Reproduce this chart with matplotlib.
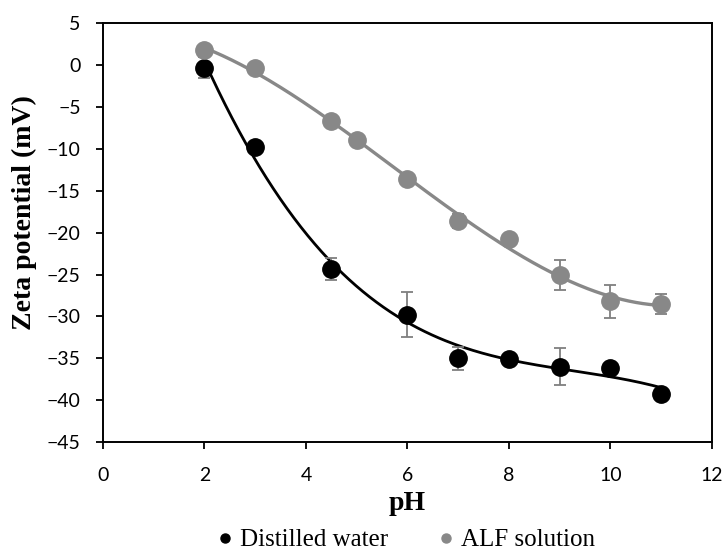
import numpy as np
import matplotlib
matplotlib.use('Agg')
import matplotlib.pyplot as plt
from matplotlib.lines import Line2D

# distilled water
ph_water = [2, 3, 4.5, 6, 7, 8, 9, 10, 11]
zeta_water = [-0.3, -9.8, -24.3, -29.8, -35.0, -35.1, -36.0, -36.1, -39.2]
err_water = [1.3, 0.5, 1.3, 2.7, 1.4, 0.5, 2.2, 0.6, 0.5]

# ALF solution
ph_alf = [2, 3, 4.5, 5, 6, 7, 8, 9, 10, 11]
zeta_alf = [1.8, -0.4, -6.7, -9.0, -13.6, -18.6, -20.8, -25.1, -28.2, -28.5]
err_alf = [0.3, 0.3, 0.5, 0.4, 0.4, 0.8, 0.4, 1.8, 2.0, 1.2]

x_ticks = [0, 2, 4, 6, 8, 10, 12]
y_ticks = [5, 0, -5, -10, -15, -20, -25, -30, -35, -40, -45]

black = '#000000'
grey = '#888888'
err_col = '#7f7f7f'

fig = plt.figure(figsize=(7.25, 5.52), dpi=100)
ax = fig.add_axes([0.142, 0.199, 0.840, 0.759])

def trend(x, y, deg=3):
    c = np.polyfit(x, y, deg)
    xs = np.linspace(min(x), max(x), 200)
    return xs, np.polyval(c, xs)

for x, y, e, col, lw in [(ph_water, zeta_water, err_water, black, 2.0),
                         (ph_alf, zeta_alf, err_alf, grey, 2.4)]:
    xs, ys = trend(x, y)
    ax.plot(xs, ys, color=col, lw=lw, zorder=2)
    ax.errorbar(x, y, yerr=e, fmt='none', ecolor=err_col, elinewidth=1.3,
                capsize=4, capthick=1.3, zorder=3)
    ax.plot(x, y, 'o', color=col, markersize=12.5, zorder=4, linestyle='none')

ax.set_xlim(0, 12)
ax.set_ylim(-45, 5)
ax.set_xticks(x_ticks)
ax.set_yticks(y_ticks)
for s in ax.spines.values():
    s.set_linewidth(1.4)
    s.set_color('black')
ax.tick_params(direction='out', length=5, width=1.3, labelsize=14, pad=11)
ax.tick_params(axis='x', pad=13)
for lab in ax.get_xticklabels() + ax.get_yticklabels():
    lab.set_fontfamily('Lato')

fig.text(24 / 725, 1 - 213 / 552, 'Zeta potential (mV)', rotation=90,
         ha='center', va='center', family='Liberation Serif',
         fontweight='bold', fontsize=20)
fig.text(407 / 725, 1 - 503 / 552, 'pH', ha='center', va='center',
         family='Liberation Serif', fontweight='bold', fontsize=20)

handles = [Line2D([], [], marker='o', color=black, linestyle='none', markersize=6.5),
           Line2D([], [], marker='o', color=grey, linestyle='none', markersize=6.5)]
fig.legend(handles, ['Distilled water', 'ALF solution'], loc='center',
           bbox_to_anchor=(404 / 725, 1 - 540 / 552), ncol=2, frameon=False,
           prop={'family': 'Liberation Serif', 'size': 18},
           handletextpad=0.1, columnspacing=1.8, handlelength=1.0)

fig.savefig('out.png', dpi=100)
